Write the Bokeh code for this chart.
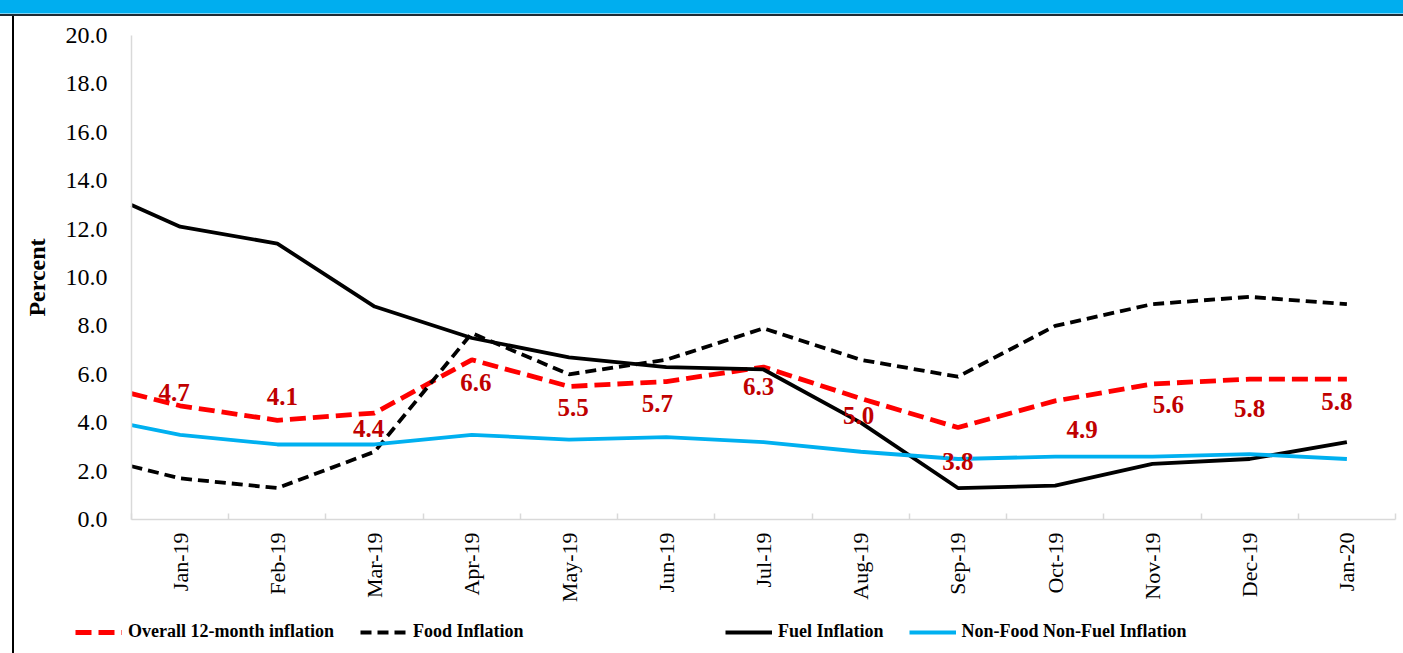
import math
from bokeh.plotting import figure
from bokeh.models import (ColumnDataSource, Range1d, FixedTicker, NumeralTickFormatter,
                          LabelSet, Legend, LegendItem)
from bokeh.core.properties import value
from bokeh.embed import file_html
from bokeh.resources import INLINE

# ---------------- data ----------------
months = ["Jan-19", "Feb-19", "Mar-19", "Apr-19", "May-19", "Jun-19", "Jul-19",
          "Aug-19", "Sep-19", "Oct-19", "Nov-19", "Dec-19", "Jan-20"]
# first value of each series is the lead point drawn at the left edge of the axis
overall = [5.2, 4.7, 4.1, 4.4, 6.6, 5.5, 5.7, 6.3, 5.0, 3.8, 4.9, 5.6, 5.8, 5.8]
food    = [2.2, 1.7, 1.3, 2.8, 7.7, 6.0, 6.6, 7.9, 6.6, 5.9, 8.0, 8.9, 9.2, 8.9]
fuel    = [13.0, 12.1, 11.4, 8.8, 7.5, 6.7, 6.3, 6.2, 4.0, 1.3, 1.4, 2.3, 2.5, 3.2]
core    = [3.9, 3.5, 3.1, 3.1, 3.5, 3.3, 3.4, 3.2, 2.8, 2.5, 2.6, 2.6, 2.7, 2.5]
overall_labels = ["4.7", "4.1", "4.4", "6.6", "5.5", "5.7", "6.3",
                  "5.0", "3.8", "4.9", "5.6", "5.8", "5.8"]
y_ticks = [0, 2, 4, 6, 8, 10, 12, 14, 16, 18, 20]
Y_MAX = 20

# label placement (pixel offsets, style only)
label_dx = [-6, 5, -6, 4, 4, -9, -5, -2, 0, 27, 16, 0, -10]
label_dy = [13, 24, -15, -23, -21, -22, -19, -17, -34, -29, -21, -29, -22]

# ---------------- layout (pixels) ----------------
W, H = 1403, 653
PLOT_L, PLOT_R, PLOT_T, PLOT_B = 131, 1395, 35, 519   # plotting area on the canvas

n = len(months)
centers = [i + 0.5 for i in range(n)]
x_pos = [0.0] + centers

# whole canvas is the frame; axes are pinned at x=0 / y=0
xu = (PLOT_R - PLOT_L) / n
yu = (PLOT_B - PLOT_T) / Y_MAX
x_range = Range1d(-PLOT_L / xu, n + (W - PLOT_R) / xu)
y_range = Range1d(-(H - PLOT_B) / yu, Y_MAX + PLOT_T / yu)

src = ColumnDataSource(dict(x=x_pos, overall=overall, food=food, fuel=fuel, core=core))
lab_src = ColumnDataSource(dict(x=centers, y=overall[1:], text=overall_labels,
                                dx=label_dx, dy=label_dy))

SERIF = "Liberation Serif"

page_bg = ("linear-gradient(#00AEEF,#00AEEF) 0 0/100% 13px no-repeat, "
           "linear-gradient(#7FD4F5,#7FD4F5) 0 13px/100% 1px no-repeat, "
           "linear-gradient(#1E2B33,#1E2B33) 0 14px/100% 2px no-repeat, "
           "linear-gradient(#000000,#000000) 12px 16px/2px 100% no-repeat, "
           "#ffffff")

p = figure(width=W, height=H, x_range=x_range, y_range=y_range,
           output_backend="svg", toolbar_location=None,
           min_border_left=0, min_border_right=0, min_border_top=0, min_border_bottom=0)
p.title.visible = False
p.outline_line_color = None
p.grid.visible = False
p.background_fill_color = None
p.border_fill_color = None
p.styles = {"background": page_bg}

# lines
r_overall = p.line("x", "overall", source=src, line_color="#FF0000", line_width=4.8,
                   line_dash="16 7")
r_food = p.line("x", "food", source=src, line_color="#000000", line_width=3.8,
                line_dash="11 6")
r_fuel = p.line("x", "fuel", source=src, line_color="#000000", line_width=3.8)
r_core = p.line("x", "core", source=src, line_color="#00B0F0", line_width=3.8)

# data labels
labels = LabelSet(x="x", y="y", text="text", source=lab_src, x_offset="dx", y_offset="dy",
                  text_align="center", text_baseline="middle", text_color="#C00000",
                  text_font=value(SERIF), text_font_size="25px", text_font_style="bold")
p.add_layout(labels)

# x axis
xa = p.xaxis[0]
xa.fixed_location = 0
xa.bounds = (0, n)
xa.ticker = FixedTicker(ticks=centers, minor_ticks=list(range(n + 1)))
xa.major_label_overrides = {c: m for c, m in zip(centers, months)}
xa.major_label_orientation = math.pi / 2
xa.major_tick_line_color = None
xa.major_tick_in = 0
xa.major_tick_out = 0
xa.minor_tick_line_color = "#D9D9D9"
xa.minor_tick_line_width = 1.5
xa.minor_tick_in = 6
xa.minor_tick_out = 0
xa.axis_line_color = "#D9D9D9"
xa.axis_line_width = 1.5
xa.major_label_standoff = 13
xa.major_label_text_font = SERIF
xa.major_label_text_font_size = "22px"
xa.major_label_text_color = "#000000"

# y axis
ya = p.yaxis[0]
ya.fixed_location = 0
ya.bounds = (0, Y_MAX)
ya.ticker = FixedTicker(ticks=y_ticks)
ya.formatter = NumeralTickFormatter(format="0.0")
ya.major_tick_line_color = None
ya.minor_tick_line_color = None
ya.major_tick_in = 0
ya.major_tick_out = 0
ya.axis_line_color = "#D9D9D9"
ya.axis_line_width = 1.5
ya.major_label_standoff = 24
ya.major_label_text_font = SERIF
ya.major_label_text_font_size = "24px"
ya.major_label_text_color = "#000000"
ya.axis_label = "Percent"
ya.axis_label_text_font = SERIF
ya.axis_label_text_font_size = "24px"
ya.axis_label_text_font_style = "bold"
ya.axis_label_text_color = "#000000"
ya.axis_label_standoff = 13

# legends (two groups, as in the original)
common = dict(orientation="horizontal", glyph_width=47, glyph_height=20, label_height=20,
              label_standoff=6, padding=0, margin=0, border_line_color=None,
              background_fill_alpha=0, label_text_font=SERIF, label_text_font_size="18px",
              label_text_font_style="bold", label_text_color="#000000")
leg1 = Legend(items=[LegendItem(label="Overall 12-month inflation", renderers=[r_overall]),
                     LegendItem(label="Food Inflation", renderers=[r_food])],
              location=(75, 11), spacing=26, **common)
leg2 = Legend(items=[LegendItem(label="Fuel Inflation", renderers=[r_fuel]),
                     LegendItem(label="Non-Food Non-Fuel Inflation", renderers=[r_core])],
              location=(725, 11), spacing=25, **common)
p.add_layout(leg1)
p.add_layout(leg2)

open("out.html", "w").write(file_html(p, INLINE))
